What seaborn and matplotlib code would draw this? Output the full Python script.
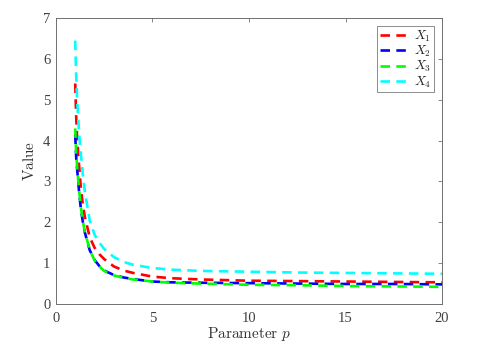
import numpy as np
import pandas as pd
import matplotlib
matplotlib.use("Agg")
import matplotlib.pyplot as plt
import seaborn as sns

# values
p_values = [1.0, 1.05, 1.1, 1.2, 1.3, 1.4, 1.5, 1.75, 2.0, 2.25, 2.5, 3.0, 3.5,
            4.0, 5.0, 6.0, 7.5, 10.0, 12.5, 15.0, 17.5, 20.0]
x1_values = [5.4, 4.6, 4.05, 3.4, 2.8, 2.42, 2.13, 1.64, 1.38, 1.22, 1.1, 0.92, 0.82,
             0.76, 0.67, 0.63, 0.6, 0.57, 0.56, 0.55, 0.54, 0.53]
x2_values = [4.15, 3.6, 3.3, 2.75, 2.3, 2.0, 1.75, 1.32, 1.08, 0.93, 0.82, 0.71, 0.65,
             0.61, 0.55, 0.53, 0.52, 0.51, 0.5, 0.49, 0.49, 0.48]
x3_values = [4.3, 3.7, 3.35, 2.8, 2.35, 2.02, 1.77, 1.33, 1.07, 0.92, 0.81, 0.7, 0.64,
             0.6, 0.55, 0.52, 0.5, 0.47, 0.46, 0.44, 0.43, 0.42]
x4_values = [6.45, 5.6, 5.0, 4.2, 3.65, 3.15, 2.75, 2.05, 1.7, 1.5, 1.35, 1.15, 1.03,
             0.96, 0.88, 0.84, 0.81, 0.79, 0.77, 0.76, 0.75, 0.74]
series_names = ["$X_1$", "$X_2$", "$X_3$", "$X_4$"]
series_colors = ["#ff0000", "#0000ff", "#00ff00", "#00ffff"]

df = pd.concat([
    pd.DataFrame({"p": p_values, "value": vals, "series": name})
    for name, vals in zip(series_names, [x1_values, x2_values, x3_values, x4_values])
], ignore_index=True)

sns.set_theme(style="white")
plt.rcParams["font.family"] = ["Liberation Serif", "DejaVu Serif"]
plt.rcParams["mathtext.fontset"] = "cm"

fig = plt.figure(figsize=(4.99, 3.49), dpi=100)
ax = fig.add_axes([0.112, 0.129, 0.774, 0.819])

sns.lineplot(data=df, x="p", y="value", hue="series", style="series",
             palette=dict(zip(series_names, series_colors)),
             dashes={n: (3.6, 2.4) for n in series_names},
             linewidth=1.9, ax=ax, legend=True)

ax.set_xlim(0, 20)
ax.set_ylim(0, 7)
ax.set_xticks([0, 5, 10, 15, 20])
ax.set_yticks(range(0, 8))
ax.set_xlabel(r"$\mathrm{Parameter}\ p$", fontsize=11, color="#333333", labelpad=0)
ax.set_ylabel(r"$\mathrm{Value}$", fontsize=11, color="#333333", labelpad=4)

for s in ax.spines.values():
    s.set_visible(True)
    s.set_color("#707070")
    s.set_linewidth(0.7)
ax.tick_params(direction="in", length=3, width=0.6, top=True, right=True,
               labelsize=10.5, colors="#707070", labelcolor="#404040", pad=4)
ax.tick_params(axis="x", pad=6)

handles, labels = ax.get_legend_handles_labels()
leg = ax.legend(handles, labels, loc="upper right", fontsize=9.5, frameon=True,
                fancybox=False, edgecolor="#707070", handlelength=2.3,
                borderpad=0.2, labelspacing=0.0, handletextpad=0.3,
                borderaxespad=0.6)
leg.get_frame().set_linewidth(0.7)

fig.savefig("out.png", dpi=100)
